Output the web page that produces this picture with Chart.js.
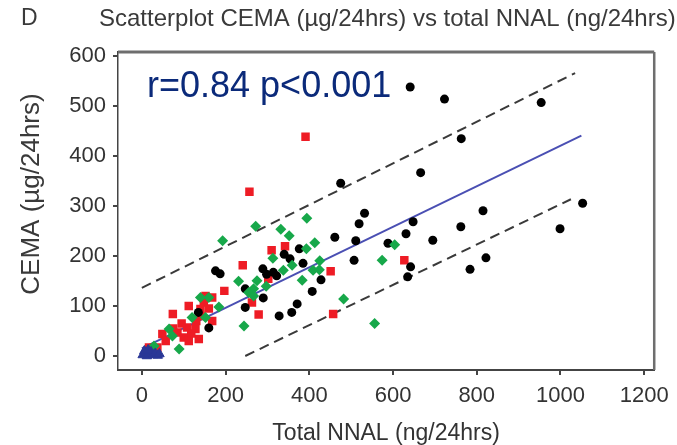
<!DOCTYPE html>
<html>
<head>
<meta charset="utf-8">
<script src="https://cdn.jsdelivr.net/npm/chart.js@4.4.0/dist/chart.umd.min.js"></script>
<style>
  html, body { margin: 0; padding: 0; background: #fff; }
  #wrap { width: 677px; height: 445px; }
</style>
</head>
<body>
<div id="wrap"><canvas id="chart"></canvas></div>
<script>
// axis ticks
const xTicks = [0, 200, 400, 600, 800, 1000, 1200];
const yTicks = [0, 100, 200, 300, 400, 500, 600];

// points are [total NNAL, CEMA]
const blackPts = [
  [641, 537], [723, 513], [954, 506], [763, 434], [666, 366], [475, 345],
  [532, 285], [519, 264], [815, 290], [1053, 305], [648, 268], [762, 258],
  [999, 254], [461, 237], [511, 230], [631, 244], [695, 231], [588, 225],
  [822, 196], [507, 191], [642, 178], [784, 173], [635, 158], [376, 214],
  [340, 203], [354, 194], [385, 185], [289, 174], [314, 167], [298, 163],
  [322, 160], [428, 152], [407, 129], [247, 134], [290, 116], [247, 97],
  [371, 104], [358, 87], [328, 80], [176, 170], [187, 164], [135, 87],
  [160, 56]
];
const redPts = [
  [391, 438], [257, 328], [342, 219], [310, 211], [241, 181], [451, 169],
  [627, 191], [302, 154], [197, 130], [263, 107], [279, 83], [457, 84],
  [168, 117], [112, 100], [74, 84], [148, 107], [140, 80], [168, 70],
  [108, 57], [128, 54], [136, 34], [49, 44], [85, 47], [100, 37],
  [112, 30], [37, 17], [17, 17], [57, 30], [140, 94], [152, 120],
  [95, 65], [118, 45], [75, 55], [130, 70], [160, 95]
];
const greenPts = [
  [193, 230], [272, 259], [332, 253], [352, 240], [394, 275], [413, 226],
  [393, 214], [313, 195], [338, 171], [359, 181], [409, 171], [425, 190],
  [383, 151], [231, 149], [275, 150], [297, 139], [267, 134], [255, 127],
  [267, 120], [244, 60], [482, 114], [556, 65], [574, 191], [604, 222],
  [424, 172], [184, 98], [160, 117], [140, 117], [120, 77], [152, 77],
  [65, 54], [89, 14], [29, 20], [73, 40]
];
const bluePts = [
  [2, 2], [8, 6], [12, 0], [18, 3], [22, 8], [27, 2], [32, 5], [38, 1],
  [6, 10], [42, 4], [15, 12]
];

// fitted line and prediction bands
const fitLine = [[0, 15], [1050, 440]];
const upperBand = [[0, 136], [1035, 565]];
const lowerBand = [[247, 0], [1025, 313]];

const toXY = arr => arr.map(p => ({ x: p[0], y: p[1] }));
const FONT = "'Liberation Sans', Arial, sans-serif";

const frameAndText = {
  id: 'frameAndText',
  afterDraw(chart) {
    const { ctx, chartArea: a } = chart;
    ctx.save();
    // heavier top / right edge of the box
    ctx.strokeStyle = '#6e6e6e';
    ctx.lineWidth = 3;
    ctx.beginPath();
    ctx.moveTo(a.left, a.top);
    ctx.lineTo(a.right, a.top);
    ctx.stroke();
    ctx.lineWidth = 2.5;
    ctx.beginPath();
    ctx.moveTo(a.right, a.top);
    ctx.lineTo(a.right, a.bottom);
    ctx.stroke();

    ctx.fillStyle = '#3a3a3a';
    ctx.textBaseline = 'middle';
    ctx.font = '23px ' + FONT;
    ctx.fillText('D', 21, 19);
    ctx.font = '24px ' + FONT;
    ctx.fillText('Scatterplot CEMA (\u00b5g/24hrs) vs total NNAL (ng/24hrs)', 99, 19);

    // y axis title
    ctx.save();
    ctx.translate(32, 194);
    ctx.rotate(-Math.PI / 2);
    ctx.textAlign = 'center';
    ctx.font = '26px ' + FONT;
    ctx.fillText('CEMA (\u00b5g/24hrs)', 0, 0);
    ctx.restore();

    ctx.fillStyle = '#0b2a7a';
    ctx.textBaseline = 'alphabetic';
    ctx.font = '36px ' + FONT;
    ctx.fillText('r=0.84 p<0.001', 147, 97);
    ctx.restore();
  }
};

new Chart(document.getElementById('chart'), {
  type: 'scatter',
  data: {
    datasets: [
      {
        label: 'blue',
        data: toXY(bluePts),
        pointStyle: 'triangle',
        pointRadius: 5.5,
        backgroundColor: '#2a3796',
        borderColor: '#2a3796',
        borderWidth: 1
      },
      {
        label: 'green',
        data: toXY(greenPts),
        pointStyle: 'rectRot',
        pointRadius: 5.5,
        backgroundColor: '#17a84a',
        borderColor: '#17a84a',
        borderWidth: 0
      },
      {
        label: 'black',
        data: toXY(blackPts),
        pointStyle: 'circle',
        pointRadius: 4.5,
        backgroundColor: '#000',
        borderColor: '#000',
        borderWidth: 0
      },
      {
        label: 'red',
        data: toXY(redPts),
        pointStyle: 'rect',
        pointRadius: 6,
        backgroundColor: '#ee1c25',
        borderColor: '#ee1c25',
        borderWidth: 0
      },
      {
        label: 'fit',
        data: toXY(fitLine),
        showLine: true,
        borderColor: '#4a4fb3',
        borderWidth: 2,
        pointRadius: 0
      },
      {
        label: 'upper',
        data: toXY(upperBand),
        showLine: true,
        borderColor: '#3a3a3a',
        borderWidth: 2,
        borderDash: [10, 6],
        pointRadius: 0
      },
      {
        label: 'lower',
        data: toXY(lowerBand),
        showLine: true,
        borderColor: '#3a3a3a',
        borderWidth: 2,
        borderDash: [10, 6],
        pointRadius: 0
      }
    ]
  },
  options: {
    responsive: true,
    maintainAspectRatio: false,
    animation: false,
    layout: { padding: { top: 52, right: 19, left: 0, bottom: 0 } },
    plugins: {
      legend: { display: false },
      tooltip: { enabled: false }
    },
    scales: {
      x: {
        type: 'linear',
        min: -57,
        max: 1224,
        afterFit: s => { s.height = 75; },
        afterBuildTicks: s => { s.ticks = xTicks.map(v => ({ value: v })); },
        grid: { drawOnChartArea: false, drawTicks: true, tickLength: 5, color: '#444', lineWidth: 2 },
        border: { color: '#444', width: 2 },
        ticks: {
          color: '#333', padding: 8, maxRotation: 0,
          font: { family: FONT, size: 22 },
          callback: v => String(v)
        },
        title: {
          display: true,
          text: 'Total NNAL (ng/24hrs)',
          color: '#333',
          padding: 0,
          font: { family: FONT, size: 23, lineHeight: 1 }
        }
      },
      y: {
        type: 'linear',
        min: -28,
        max: 607,
        afterFit: s => { s.width = 118; },
        afterBuildTicks: s => { s.ticks = yTicks.map(v => ({ value: v })); },
        grid: { drawOnChartArea: false, drawTicks: true, tickLength: 5, color: '#444', lineWidth: 2 },
        border: { color: '#444', width: 1.5 },
        ticks: {
          color: '#333', padding: 7,
          font: { family: FONT, size: 22 },
          callback: v => String(v)
        }
      }
    }
  },
  plugins: [frameAndText]
});
</script>
</body>
</html>
